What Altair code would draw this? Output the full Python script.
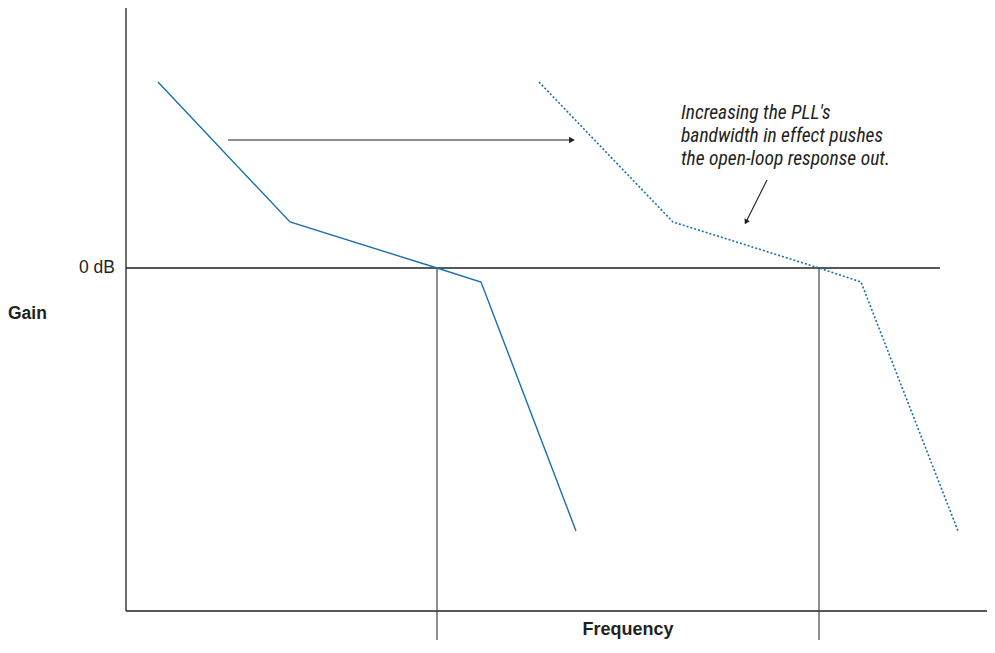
import altair as alt
import pandas as pd

# Units: frequency in arbitrary log-frequency units, gain in arbitrary dB units
solid_f = [3.2, 16.4, 31.1, 35.5, 45.0]
solid_g = [18.6, 4.6, 0.0, -1.4, -26.3]
dotted_f = [41.3, 54.7, 69.3, 73.5, 83.2]
dotted_g = [18.6, 4.6, 0.0, -1.4, -26.3]

crossover_f = [31.1, 69.3]

X_MAX = 86.1
Y_MIN, Y_MAX = -34.3, 26.0
Y_BOTTOM = -37.2

BLUE = "#1a6fb0"
INK = "#231f20"

solid = pd.DataFrame({"f": solid_f, "g": solid_g, "o": range(5)})
dotted = pd.DataFrame({"f": dotted_f, "g": dotted_g, "o": range(5)})

xs = alt.Scale(domain=[0, X_MAX], nice=False, zero=False)
ys = alt.Scale(domain=[Y_MIN, Y_MAX], nice=False, zero=False)

def X(field="f"):
    return alt.X(field, type="quantitative", scale=xs, axis=None)

def Y(field="g"):
    return alt.Y(field, type="quantitative", scale=ys, axis=None)

solid_line = alt.Chart(solid).mark_line(color=BLUE, strokeWidth=1.4).encode(
    x=X(), y=Y(), order="o:O")
dotted_line = alt.Chart(dotted).mark_line(color=BLUE, strokeWidth=1.6, strokeDash=[2, 2]).encode(
    x=X(), y=Y(), order="o:O")

# axes frame
axes = pd.DataFrame({
    "x1": [0, 0, 0], "x2": [0, X_MAX, 81.4],
    "y1": [Y_MAX, Y_MIN, 0.0], "y2": [Y_MIN, Y_MIN, 0.0],
})
axis_rules = alt.Chart(axes).mark_rule(color=INK, strokeWidth=1.3).encode(
    x=X("x1"), x2="x2", y=Y("y1"), y2="y2")

vlines = pd.DataFrame({"f": crossover_f, "y1": [0.0, 0.0], "y2": [Y_BOTTOM, Y_BOTTOM]})
vline_rules = alt.Chart(vlines).mark_rule(color="#444444", strokeWidth=1.2).encode(
    x=X("f"), y=Y("y1"), y2="y2")

# horizontal arrow
harrow = pd.DataFrame({"x1": [10.2], "x2": [44.6], "y": [12.8]})
harrow_line = alt.Chart(harrow).mark_rule(color=INK, strokeWidth=1.2).encode(
    x=X("x1"), x2="x2", y=Y("y"))
harrow_head = alt.Chart(pd.DataFrame({"f": [44.6], "g": [12.8]})).mark_point(
    shape="triangle-right", filled=True, color=INK, size=45, opacity=1).encode(x=X(), y=Y())

# annotation arrow
darrow = pd.DataFrame({"x1": [64.1], "x2": [62.0], "y1": [8.8], "y2": [4.6]})
darrow_line = alt.Chart(darrow).mark_rule(color=INK, strokeWidth=1.1).encode(
    x=X("x1"), x2="x2", y=Y("y1"), y2="y2")
darrow_head = alt.Chart(pd.DataFrame({"f": [62.0], "g": [4.6]})).mark_point(
    shape="triangle-up", filled=True, color=INK, size=35, angle=208, opacity=1).encode(x=X(), y=Y())

# annotation text
note_lines = ["Increasing the PLL's", "bandwidth in effect pushes", "the open-loop response out."]
note = pd.DataFrame({"f": [55.5] * 3, "g": [15.5, 13.2, 10.9], "t": note_lines})
note_text = alt.Chart(note).mark_text(
    align="left", baseline="middle", fontStyle="italic", fontSize=19.5,
    font="Liberation Sans Narrow, Arial Narrow, Roboto Condensed, sans-serif", color=INK
).encode(x=X(), y=Y(), text="t")

# labels
labels = pd.DataFrame({"f": [-1.1], "g": [0.0], "t": ["0 dB"]})
zero_label = alt.Chart(labels).mark_text(
    align="right", baseline="middle", fontSize=17.5, font="Liberation Sans, Arial, sans-serif", color=INK
).encode(x=X(), y=Y(), text="t")

gain = pd.DataFrame({"f": [-11.8], "g": [-4.6], "t": ["Gain"]})
gain_label = alt.Chart(gain).mark_text(
    align="left", baseline="middle", fontSize=17.5, fontWeight="bold",
    font="Liberation Sans, Arial, sans-serif", color=INK
).encode(x=X(), y=Y(), text="t")

freq = pd.DataFrame({"f": [50.2], "g": [-36.2], "t": ["Frequency"]})
freq_label = alt.Chart(freq).mark_text(
    align="center", baseline="middle", fontSize=18, fontWeight="bold",
    font="Liberation Sans, Arial, sans-serif", color=INK
).encode(x=X(), y=Y(), text="t")

chart = alt.layer(
    axis_rules, vline_rules, solid_line, dotted_line,
    harrow_line, harrow_head, darrow_line, darrow_head,
    note_text, zero_label, gain_label, freq_label,
).properties(
    width=861, height=603,
    autosize=alt.AutoSizeParams(type="none"),
    padding={"left": 118, "top": 0, "right": 0, "bottom": 29},
).configure(background="white").configure_view(stroke=None, strokeWidth=0)

chart.save("out.html", embed_options={"renderer": "svg", "actions": False})
